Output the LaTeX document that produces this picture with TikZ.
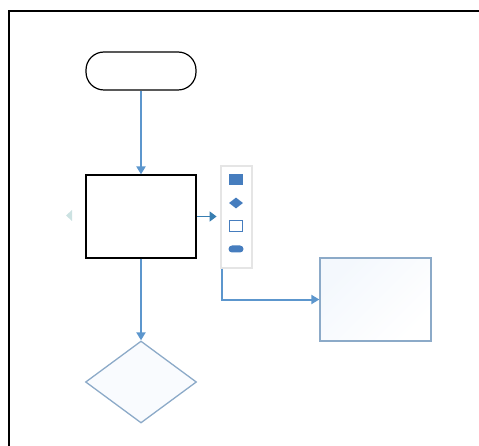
\documentclass[tikz,border=0pt]{standalone}
\usepackage{tikz}
\usetikzlibrary{shapes.geometric,arrows.meta,positioning}
\definecolor{flowblue}{RGB}{92,150,205}
\definecolor{iconblue}{RGB}{70,125,190}
\definecolor{paleedge}{RGB}{140,170,200}
\definecolor{palefill}{RGB}{236,243,252}

\begin{document}
\begin{tikzpicture}[x=1pt,y=-1pt,
    flow/.style={draw=flowblue,line width=2pt,-{Triangle[length=8pt,width=9pt]}},
    startbox/.style={draw,line width=1.2pt,rounded corners=18pt,minimum width=110pt,minimum height=38pt,inner sep=0pt},
    stepbox/.style={draw,line width=1.2pt,minimum width=110pt,minimum height=83pt,inner sep=0pt},
    choice/.style={draw=paleedge,line width=1.3pt,diamond,aspect=1.33,minimum width=111pt,minimum height=82pt,inner sep=0pt,fill=palefill!30},
    newbox/.style={draw=paleedge,line width=1.3pt,minimum width=111pt,minimum height=83pt,inner sep=0pt,top color=palefill!60,bottom color=white,shading angle=45},
    panel/.style={draw=black!10,line width=1.4pt,fill=white,minimum width=31pt,minimum height=102pt,inner sep=0pt}]
  \useasboundingbox (0,0) rectangle (479,446);
  % frame
  \draw[line width=2pt] (9,446) -- (9,11) -- (479,11);

  \node[startbox] (start) at (141,71) {};
  \node[stepbox] (step1) at (141,216.5) {};
  \node[choice] (check) at (141,382) {};
  \node[newbox] (added) at (375.5,299.5) {};

  \draw[flow] (start) -- (step1);
  \draw[flow] (step1) -- (check);

  % quick-add toolbar
  \node[panel] (bar) at (236.5,217) {};
  \node[fill=iconblue,minimum width=14pt,minimum height=11pt,inner sep=0pt] (iconrect) at (236,180) {};
  \node[fill=iconblue,diamond,aspect=1.3,minimum width=14pt,minimum height=11pt,inner sep=0pt] (icondia) at (236,203) {};
  \node[draw=iconblue,line width=1.4pt,fill=white,minimum width=13pt,minimum height=11pt,inner sep=0pt] (iconbox) at (236,226) {};
  \node[fill=iconblue,rounded corners=3.5pt,minimum width=15pt,minimum height=7pt,inner sep=0pt] (iconpill) at (236,249) {};

  \draw[draw=iconblue!80!teal,line width=1.4pt,-{Triangle[length=7pt,width=10pt]}] (step1.east) -- ++(20,0);
  \fill[black!12!teal!20] (66,215.5) -- (72,210) -- (72,221) -- cycle;

  \coordinate (barfoot) at ([xshift=1.5pt]bar.south west);
  \draw[flow] (barfoot) |- (added.west);
\end{tikzpicture}
\end{document}
